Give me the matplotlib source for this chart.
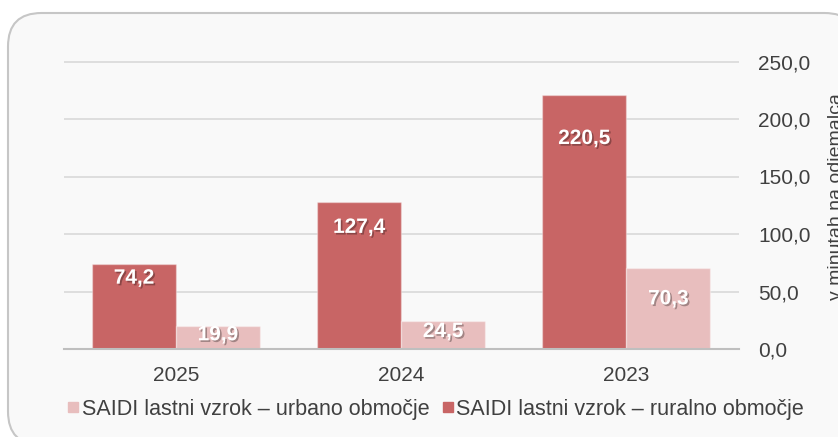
import matplotlib.pyplot as plt
import matplotlib.patheffects as pe
from matplotlib.patches import FancyBboxPatch
from matplotlib.lines import Line2D

plt.rcParams['font.family'] = ['Liberation Sans', 'DejaVu Sans']

# data
years = ['2025', '2024', '2023']
ruralno = [74.2, 127.4, 220.5]
urbano = [19.9, 24.5, 70.3]
y_ticks = [0, 50, 100, 150, 200, 250]
leg_urb = 'SAIDI lastni vzrok – urbano območje'
leg_rur = 'SAIDI lastni vzrok – ruralno območje'

c_rur = '#c86565'
c_urb = '#e8bebe'
txt_c = '#404040'
fs = 15

W, H = 838, 437
fig = plt.figure(figsize=(W / 100, H / 100), dpi=100)
fig.patch.set_facecolor('white')

# rounded panel behind the chart
box = FancyBboxPatch((8 / W, 1 - 445 / H), 850 / W, 432 / H,
                     boxstyle='round,pad=0,rounding_size=0.04',
                     transform=fig.transFigure, facecolor='#f9f9f9',
                     edgecolor='#c6c6c6', linewidth=1.5, mutation_aspect=W / H,
                     zorder=-5)
fig.patches.append(box)

# y range 0..252 so the 250 gridline is not clipped
ax = fig.add_axes([63.5 / W, 88 / H, (739 - 63.5) / W, (377.8 - 88) / H])
ax.set_facecolor('none')

x = list(range(len(years)))
w = 0.373
ax.bar([i - w / 2 for i in x], ruralno, w, color=c_rur,
       edgecolor=(1, 1, 1, 0.35), linewidth=1, zorder=3)
ax.bar([i + w / 2 for i in x], urbano, w, color=c_urb,
       edgecolor=(1, 1, 1, 0.35), linewidth=1, zorder=3)

shadow = [pe.withSimplePatchShadow(offset=(1.2, -1.2), shadow_rgbFace='black', alpha=0.3)]
for i, v in enumerate(ruralno):
    ax.text(i - w / 2, v * 0.83, f'{v:.1f}'.replace('.', ','), ha='center', va='center',
            color='white', fontsize=fs, fontweight='bold', zorder=5, path_effects=shadow)
for i, v in enumerate(urbano):
    ax.text(i + w / 2, max(v * 0.62, 12), f'{v:.1f}'.replace('.', ','), ha='center', va='center',
            color='white', fontsize=fs, fontweight='bold', zorder=5, path_effects=shadow)

ax.set_xlim(-0.5, 2.5)
ax.set_ylim(0, 252)
ax.set_yticks(y_ticks)
ax.set_yticklabels([f'{t:.1f}'.replace('.', ',') for t in y_ticks])
ax.yaxis.tick_right()
ax.set_xticks(x)
ax.set_xticklabels(years)
ax.tick_params(axis='both', length=0, labelsize=fs, colors=txt_c)
ax.tick_params(axis='x', pad=12)
ax.tick_params(axis='y', pad=14)
ax.grid(axis='y', color='#d9d9d9', linewidth=1.2, zorder=0)
for s in ['top', 'left', 'right']:
    ax.spines[s].set_visible(False)
ax.spines['bottom'].set_color('#bfbfbf')
ax.spines['bottom'].set_linewidth(1.5)
ax.spines['bottom'].set_zorder(4)

fig.text(828 / W, 1 - 197 / H, 'v minutah na odjemalca', rotation=90,
         ha='left', va='center', fontsize=14, color=txt_c)

handles = [Line2D([], [], marker='s', linestyle='none', markersize=7.5, color=c_urb),
           Line2D([], [], marker='s', linestyle='none', markersize=7.5, color=c_rur)]
fig.legend(handles, [leg_urb, leg_rur], ncol=2, loc='center',
           bbox_to_anchor=(436 / W, 1 - 409 / H), frameon=False,
           fontsize=15.5, labelcolor=txt_c, handlelength=0.5, handletextpad=0.15,
           columnspacing=0.6, borderpad=0)

fig.savefig('out.png', dpi=100)
